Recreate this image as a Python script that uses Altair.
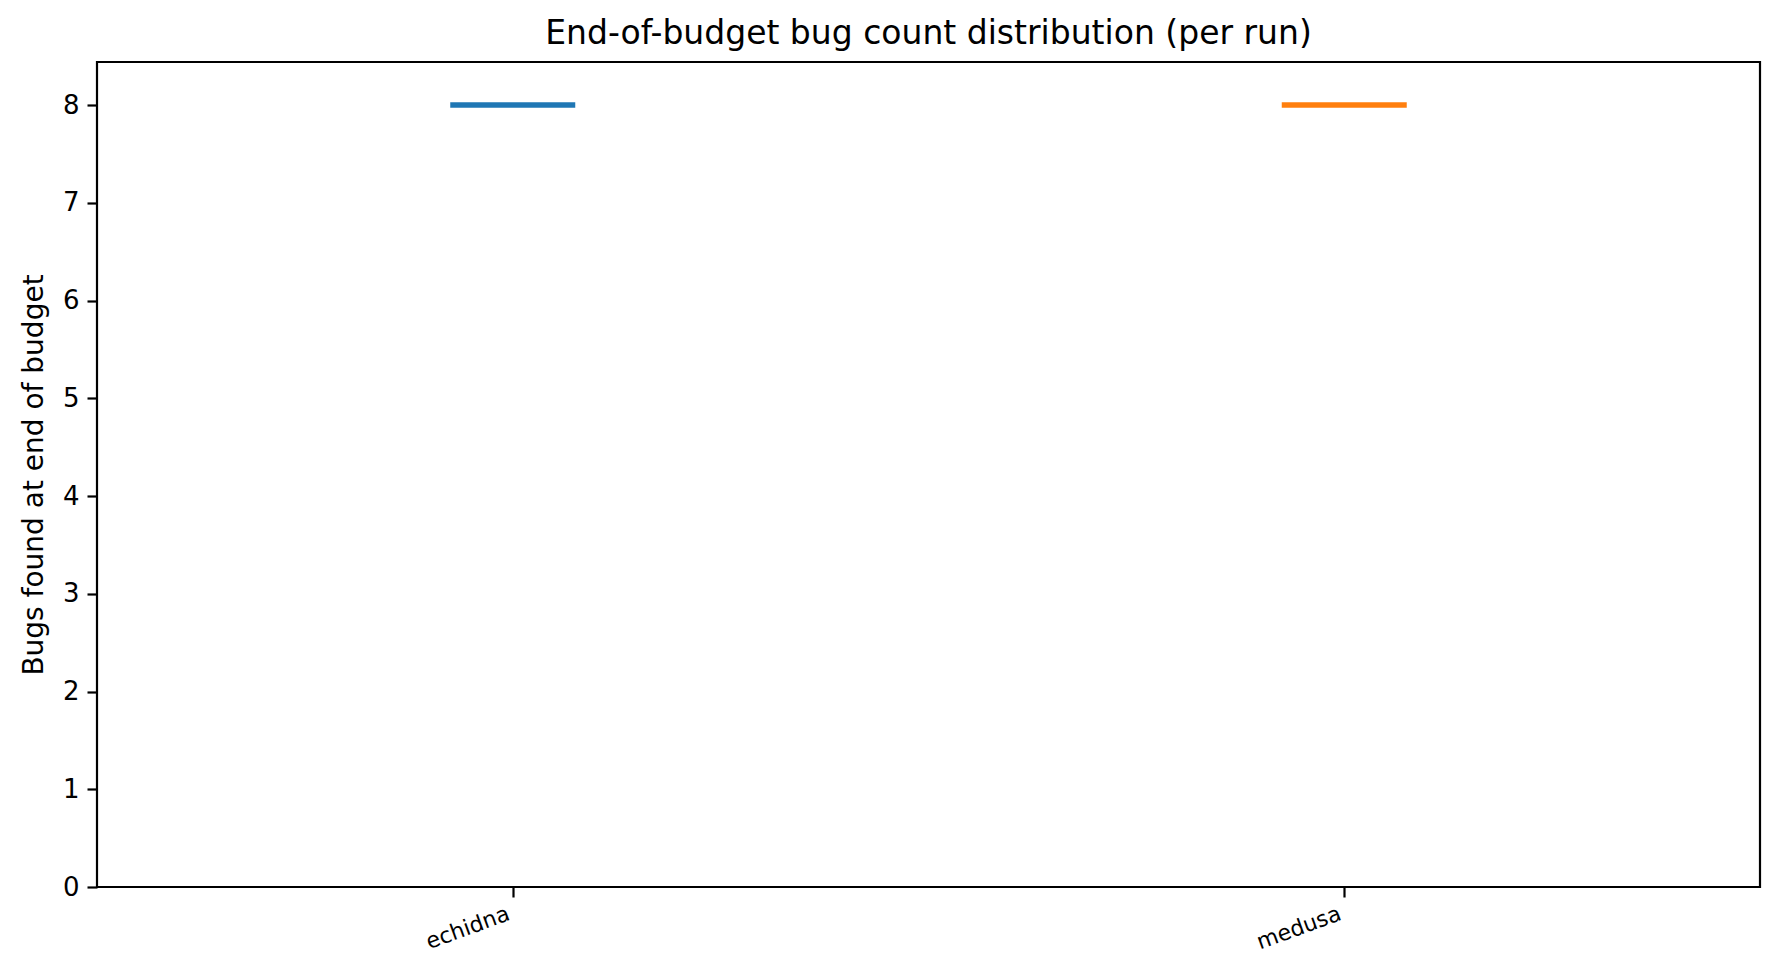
import altair as alt
import pandas as pd

# Data (all runs end with 8 bugs found)
tools = ["echidna", "medusa"]
echidna_runs = [8, 8, 8, 8, 8]
medusa_runs = [8, 8, 8, 8, 8]
colors = ["#1f77b4", "#ff7f0e"]
y_ticks = [0, 1, 2, 3, 4, 5, 6, 7, 8]

rows = [{"tool": "echidna", "bugs": v} for v in echidna_runs] + \
       [{"tool": "medusa", "bugs": v} for v in medusa_runs]
df = pd.DataFrame(rows)

W, H = 1663, 825
FONT = "DejaVu Sans"

chart = (
    alt.Chart(df)
    .transform_aggregate(median_bugs="median(bugs)", groupby=["tool"])
    .mark_tick(size=125, thickness=5.5, opacity=1)
    .encode(
        x=alt.X(
            "tool:N",
            sort=tools,
            scale=alt.Scale(type="point", padding=0.5),
            axis=alt.Axis(
                title=None,
                labelAngle=340,
                labelAlign="right",
                labelBaseline="top",
                labelFontSize=22,
                labelFont=FONT,
                labelColor="black",
                labelPadding=6,
                labelOffset=-8,
                tickSize=10,
                tickWidth=2.2,
                tickColor="black",
                domain=False,
                grid=False,
            ),
        ),
        y=alt.Y(
            "median_bugs:Q",
            scale=alt.Scale(domain=[0, 8.44], nice=False, zero=True),
            axis=alt.Axis(
                title="Bugs found at end of budget",
                titleFont=FONT,
                titleFontSize=28,
                titleFontWeight="normal",
                titleColor="black",
                titlePadding=14,
                values=y_ticks,
                format="d",
                labelFont=FONT,
                labelFontSize=26,
                labelColor="black",
                labelPadding=8,
                tickSize=10,
                tickWidth=2.2,
                tickColor="black",
                domain=False,
                grid=False,
            ),
        ),
        color=alt.Color("tool:N", scale=alt.Scale(domain=tools, range=colors), legend=None),
    )
    .properties(
        width=W,
        height=H,
        title=alt.TitleParams(
            "End-of-budget bug count distribution (per run)",
            font=FONT,
            fontSize=33,
            fontWeight="normal",
            color="black",
            anchor="middle",
            offset=11,
        ),
        padding={"left": 89, "top": 54, "right": 3, "bottom": 70},
        autosize="none",
        background="white",
    )
    .configure_view(stroke="black", strokeWidth=2.2)
)

chart.save("out.html", embed_options={"renderer": "svg", "actions": False})
